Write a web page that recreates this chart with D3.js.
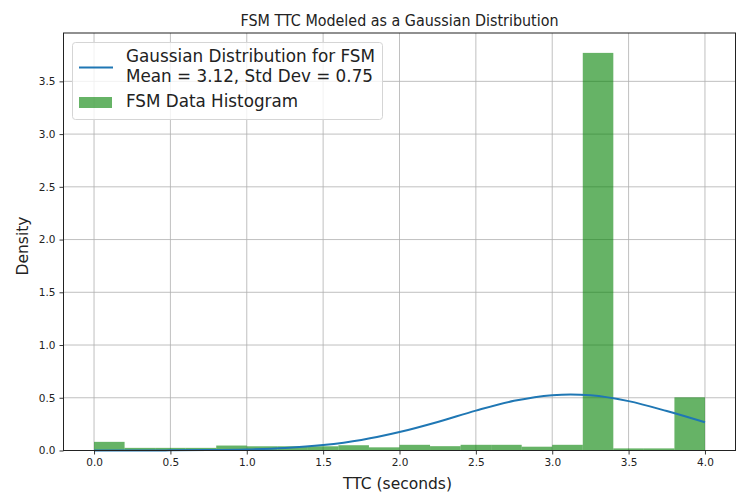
<!DOCTYPE html>
<html>
<head>
<meta charset="utf-8">
<script src="https://cdn.jsdelivr.net/npm/d3@7"></script>
<style>
  body { margin: 0; background: #fff; }
  svg { font-family: "DejaVu Sans", sans-serif; }
</style>
</head>
<body>
<svg id="canvas" width="740" height="495"></svg>
<script>
// histogram bins (density), 0.2 wide from 0 to 4
const binEdges = [0, 0.2, 0.4, 0.6, 0.8, 1.0, 1.2, 1.4, 1.6, 1.8, 2.0, 2.2, 2.4, 2.6, 2.8, 3.0, 3.2, 3.4, 3.6, 3.8, 4.0];
const binDensity = [0.082, 0.025, 0.025, 0.025, 0.047, 0.04, 0.04, 0.04, 0.05, 0.03,
                    0.054, 0.041, 0.054, 0.054, 0.036, 0.054, 3.77, 0.02, 0.02, 0.504];

// fitted curve, values
const curveX = [0, 0.25, 0.5, 0.75, 1.0, 1.25, 1.5, 1.75, 2.0, 2.25, 2.5, 2.75, 3.0, 3.12, 3.25, 3.5, 3.75, 4.0];
const curveY = [0.0001, 0.0004, 0.0012, 0.0036, 0.0098, 0.024, 0.052, 0.100, 0.175, 0.271, 0.378, 0.471, 0.525, 0.532, 0.524, 0.468, 0.374, 0.267];

const xTicks = [0, 0.5, 1.0, 1.5, 2.0, 2.5, 3.0, 3.5, 4.0];
const yTicks = [0, 0.5, 1.0, 1.5, 2.0, 2.5, 3.0, 3.5];

const legendLabels = ['Gaussian Distribution for FSM', 'Mean = 3.12, Std Dev = 0.75', 'FSM Data Histogram'];

const padL = 63.5, padR = 735.5, padT = 33, padB = 450.5;

let svg = d3.select('#canvas');

let x = d3.scaleLinear().domain([-0.2, 4.2]).range([padL, padR]);
let y = d3.scaleLinear().domain([0, 3.9585]).range([padB, padT]);

// grid
svg.append('g')
  .selectAll('line')
  .data(xTicks)
  .enter()
  .append('line')
  .attr('x1', d => x(d)).attr('x2', d => x(d))
  .attr('y1', padT).attr('y2', padB)
  .attr('stroke', '#b0b0b0').attr('stroke-width', 0.8);
svg.append('g')
  .selectAll('line')
  .data(yTicks)
  .enter()
  .append('line')
  .attr('y1', d => y(d)).attr('y2', d => y(d))
  .attr('x1', padL).attr('x2', padR)
  .attr('stroke', '#b0b0b0').attr('stroke-width', 0.8);

// histogram
svg.append('g')
  .selectAll('rect')
  .data(binDensity)
  .enter()
  .append('rect')
  .attr('x', (d, i) => x(binEdges[i]))
  .attr('width', (d, i) => x(binEdges[i + 1]) - x(binEdges[i]))
  .attr('y', d => y(d))
  .attr('height', d => y(0) - y(d))
  .attr('fill', '#008000')
  .attr('fill-opacity', 0.6);

// gaussian line
let line = d3.line()
  .x((d, i) => x(curveX[i]))
  .y(d => y(d))
  .curve(d3.curveMonotoneX);
svg.append('path')
  .attr('d', line(curveY))
  .attr('fill', 'none')
  .attr('stroke', '#1f77b4')
  .attr('stroke-width', 2);

// axes
let xAxis = svg.append('g')
  .attr('transform', `translate(0,${padB})`)
  .call(d3.axisBottom(x).tickValues(xTicks).tickFormat(d3.format('.1f')).tickSize(4).tickPadding(4));
let yAxis = svg.append('g')
  .attr('transform', `translate(${padL},0)`)
  .call(d3.axisLeft(y).tickValues(yTicks).tickFormat(d3.format('.1f')).tickSize(4).tickPadding(4));
[xAxis, yAxis].forEach(a => {
  a.select('.domain').remove();
  a.selectAll('line').attr('stroke', '#222').attr('stroke-width', 0.9);
  a.selectAll('text').attr('fill', '#222').style('font-size', '10.5px').style('font-family', '"DejaVu Sans", sans-serif');
});

// frame
svg.append('rect')
  .attr('x', padL).attr('y', padT)
  .attr('width', padR - padL).attr('height', padB - padT)
  .attr('fill', 'none').attr('stroke', '#222').attr('stroke-width', 1);

// title and labels
svg.append('text')
  .attr('x', (padL + padR) / 2).attr('y', 25.5)
  .attr('text-anchor', 'middle')
  .attr('textLength', 318).attr('lengthAdjust', 'spacingAndGlyphs')
  .style('font-size', '15px').attr('fill', '#222')
  .text('FSM TTC Modeled as a Gaussian Distribution');
svg.append('text')
  .attr('x', 397.5).attr('y', 489)
  .attr('text-anchor', 'middle')
  .style('font-size', '15.5px').attr('fill', '#222')
  .text('TTC (seconds)');
svg.append('text')
  .attr('transform', 'translate(28,246) rotate(-90)')
  .attr('text-anchor', 'middle')
  .style('font-size', '15.5px').attr('fill', '#222')
  .text('Density');

// legend
let legend = svg.append('g');
legend.append('rect')
  .attr('x', 72.5).attr('y', 42.5)
  .attr('width', 310).attr('height', 77)
  .attr('rx', 3)
  .attr('fill', '#fff').attr('fill-opacity', 0.8)
  .attr('stroke', '#d5d5d5');
legend.append('line')
  .attr('x1', 79).attr('x2', 113).attr('y1', 67.5).attr('y2', 67.5)
  .attr('stroke', '#1f77b4').attr('stroke-width', 2);
legend.append('rect')
  .attr('x', 79).attr('y', 97).attr('width', 33).attr('height', 11)
  .attr('fill', '#008000').attr('fill-opacity', 0.6);
const legendY = [61.7, 81.7, 106.7];
const legendW = [249, 247, 172];
legend.selectAll('text')
  .data(legendLabels)
  .enter()
  .append('text')
  .attr('x', 126)
  .attr('y', (d, i) => legendY[i])
  .attr('textLength', (d, i) => legendW[i])
  .attr('lengthAdjust', 'spacingAndGlyphs')
  .style('font-size', '17.5px').attr('fill', '#222')
  .text(d => d);
</script>
</body>
</html>
